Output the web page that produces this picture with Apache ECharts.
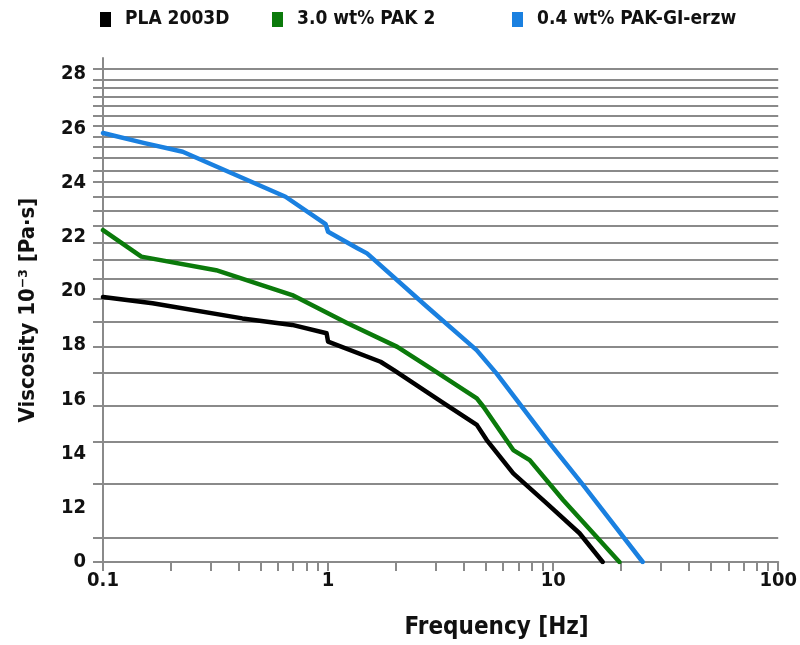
<!DOCTYPE html>
<html>
<head>
<meta charset="utf-8">
<script src="https://cdn.jsdelivr.net/npm/echarts@6/dist/echarts.min.js"></script>
<style>
  html, body { margin: 0; padding: 0; background: #fff; }
  #chart { width: 800px; height: 645px; }
</style>
</head>
<body>
<div id="chart"></div>
<script>
// Viscosity curves: [frequency in Hz, viscosity]
const seriesNames = ['PLA 2003D', '3.0 wt% PAK 2', '0.4 wt% PAK-GI-erzw'];
const seriesColors = ['#000000', '#0b7a0b', '#1a80e0'];

const pla2003d = [
  [0.1, 19.78], [0.166, 19.55], [0.416, 18.99], [0.693, 18.75], [0.985, 18.44],
  [1.0, 18.13], [1.71, 17.39], [1.96, 17.08], [3.26, 15.86], [4.58, 15.06],
  [5.07, 14.50], [6.65, 13.27], [9.34, 12.17], [13.1, 11.06], [16.6, 10.0]
];
const pak2 = [
  [0.1, 22.25], [0.148, 21.27], [0.318, 20.77], [0.693, 19.85], [1.22, 18.81],
  [2.03, 17.94], [2.94, 17.08], [4.58, 16.04], [4.9, 15.73], [6.65, 14.13],
  [7.87, 13.76], [11.07, 12.29], [19.7, 10.0]
];
const pakGiErzw = [
  [0.1, 25.83], [0.153, 25.46], [0.226, 25.14], [0.647, 23.48], [0.975, 22.47],
  [1.0, 22.19], [1.35, 21.58], [1.49, 21.39], [2.75, 19.42], [4.57, 17.82],
  [5.6, 16.96], [9.66, 14.38], [13.6, 12.84], [25.0, 10.0]
];

// Axis ticks and labels
const xLabelValues = [0.1, 1, 10, 100];
const xTickValues = [
  0.1, 0.2, 0.3, 0.4, 0.5, 0.6, 0.7, 0.8, 0.9,
  1, 2, 3, 4, 5, 6, 7, 8, 9,
  10, 20, 30, 40, 50, 60, 70, 80, 90, 100
];
const yLabelValues = [10, 12, 14, 16, 18, 20, 22, 24, 26, 28];
const yGridValues = [
  10, 10.90, 12.87, 14.45, 15.78, 16.99, 17.94, 18.85, 19.70, 20.45, 21.15,
  21.80, 22.42, 22.98, 23.48, 24.02, 24.45, 24.93, 25.34, 25.69, 26.11,
  26.47, 26.83, 27.17, 27.52, 27.79, 28.22
];

const FONT = "'DejaVu Sans Condensed', 'Noto Sans', sans-serif";
const dataSets = [pla2003d, pak2, pakGiErzw];
const legendLefts = [100, 272, 512];

const chart = echarts.init(document.getElementById('chart'), null, { renderer: 'canvas' });

const option = {
  animation: false,
  backgroundColor: '#ffffff',
  legend: seriesNames.map((name, i) => ({
    data: [name],
    left: legendLefts[i],
    top: 10,
    padding: 0,
    icon: 'rect',
    itemWidth: 11,
    itemHeight: 15,
    itemGap: 0,
    selectedMode: false,
    textStyle: { fontFamily: FONT, fontWeight: 'bold', fontSize: 19, color: '#111', padding: [0, 0, 0, 9] }
  })),
  grid: { left: 103, right: 18, top: 58, bottom: 83, containLabel: false },
  xAxis: {
    type: 'log',
    logBase: 10,
    min: 0.1,
    max: 100,
    name: 'Frequency [Hz]',
    nameLocation: 'middle',
    nameGap: 54,
    nameTextStyle: { fontFamily: FONT, fontWeight: 'bold', fontSize: 24, color: '#111', padding: [0, 0, 0, 112] },
    axisLine: { show: true, lineStyle: { color: '#8a8a8a', width: 2 } },
    axisTick: { show: true, inside: false, length: 9, customValues: xTickValues, lineStyle: { color: '#8a8a8a', width: 2 } },
    minorTick: { show: false },
    axisLabel: {
      customValues: xLabelValues,
      margin: 9,
      fontFamily: FONT, fontWeight: 'bold', fontSize: 20, color: '#111',
      formatter: v => String(v)
    },
    splitLine: { show: false }
  },
  yAxis: {
    type: 'value',
    min: 10,
    max: 28.6,
    name: 'Viscosity 10\u207B\u00B3 [Pa\u00B7s]',
    nameLocation: 'middle',
    nameGap: 64,
    nameRotate: 90,
    nameTextStyle: { fontFamily: FONT, fontWeight: 'bold', fontSize: 22, color: '#111' },
    axisLine: { show: true, lineStyle: { color: '#8a8a8a', width: 2 } },
    axisTick: { show: true, inside: false, length: 10, customValues: yGridValues, lineStyle: { color: '#8a8a8a', width: 2 } },
    axisLabel: {
      customValues: yLabelValues,
      margin: 17,
      fontFamily: FONT, fontWeight: 'bold', fontSize: 20, color: '#111',
      formatter: v => (v === 10 ? '0' : String(v))
    },
    splitLine: { show: true, lineStyle: { color: '#8a8a8a', width: 2 } }
  },
  series: seriesNames.map((name, i) => ({
    name,
    type: 'line',
    data: dataSets[i],
    color: seriesColors[i],
    showSymbol: false,
    symbol: 'none',
    smooth: false,
    z: 3 + i,
    lineStyle: { width: 4.5, color: seriesColors[i], join: 'round', cap: 'round' }
  }))
};

chart.setOption(option);
</script>
</body>
</html>
